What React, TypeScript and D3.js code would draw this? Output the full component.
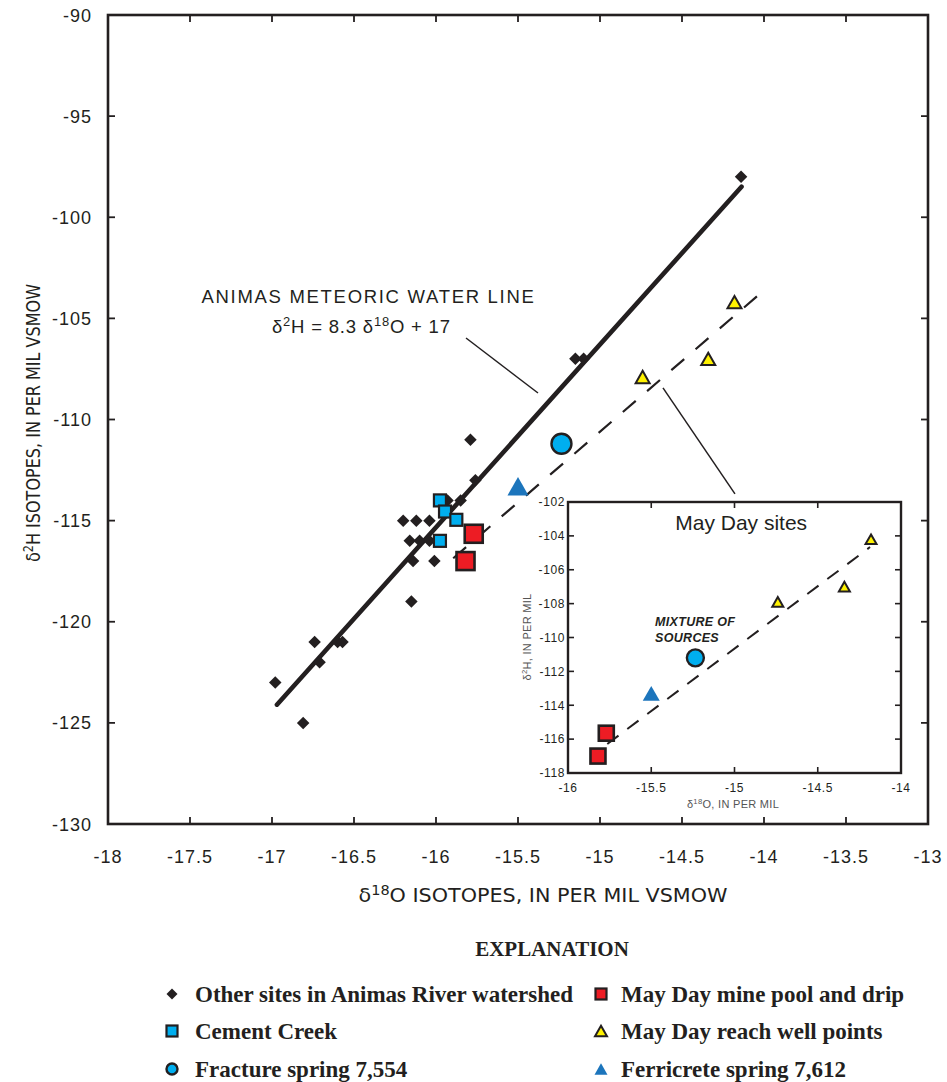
import React, { useEffect, useRef } from "react";
import * as d3 from "d3";

// ---------- data ----------
const X_TICKS = [-18, -17.5, -17, -16.5, -16, -15.5, -15, -14.5, -14, -13.5, -13];
const Y_TICKS = [-90, -95, -100, -105, -110, -115, -120, -125, -130];
const INSET_X_TICKS = [-16, -15.5, -15, -14.5, -14];
const INSET_Y_TICKS = [-102, -104, -106, -108, -110, -112, -114, -116, -118];

const otherSitesX = [-16.98, -16.81, -16.74, -16.71, -16.6, -16.57, -16.15, -16.14, -16.01, -16.16, -16.1, -16.04, -16.2, -16.12, -16.04, -15.93, -15.85, -15.76, -15.79, -15.15, -15.1, -14.14];
const otherSitesY = [-123, -125, -121, -122, -121, -121, -119, -117, -117, -116, -116, -116, -115, -115, -115, -114, -114, -113, -111, -107, -107, -98];

const cementCreekX = [-15.976, -15.945, -15.876, -15.976];
const cementCreekY = [-114, -114.55, -114.96, -116];

const minePoolX = [-15.77, -15.82];
const minePoolY = [-115.65, -117.0];

const wellPointsX = [-14.74, -14.34, -14.18];
const wellPointsY = [-107.9, -107.0, -104.2];

const fractureX = [-15.235];
const fractureY = [-111.2];

const ferricreteX = [-15.5];
const ferricreteY = [-113.3];

const meteoricLineX = [-16.97, -14.137];
const meteoricLineY = [-124.1, -98.49];

const mixingLineX = [-15.895, -14.04];
const mixingLineY = [-116.86, -103.89];

const insetMixingLineX = [-15.764, -14.186];
const insetMixingLineY = [-116.29, -104.66];

const legendLabels = [
  "Other sites in Animas River watershed",
  "Cement Creek",
  "Fracture spring 7,554",
  "May Day mine pool and drip",
  "May Day reach well points",
  "Ferricrete spring 7,612",
];

// ---------- style ----------
const INK = "#231f20";
const RED = "#ed1c24";
const CYAN = "#00aeef";
const BLUE = "#1c75bc";
const YELLOW = "#fff200";
const SANS = "'Liberation Sans', Arial, Helvetica, sans-serif";
const NARROW = "'Liberation Sans Narrow', 'DejaVu Sans Condensed', 'Liberation Sans', sans-serif";
const SERIF = "'Liberation Serif', 'Times New Roman', serif";

type Sel = d3.Selection<SVGGElement, unknown, null, undefined>;

function drawMarker(g: Sel, kind: string, cx: number, cy: number, s: number) {
  if (kind === "diamond") {
    const h = s / 2;
    g.append("path")
      .attr("d", `M${cx},${cy - h}L${cx + h},${cy}L${cx},${cy + h}L${cx - h},${cy}Z`)
      .attr("fill", INK);
  } else if (kind === "cyanSquare" || kind === "redSquare") {
    g.append("rect")
      .attr("x", cx - s / 2).attr("y", cy - s / 2)
      .attr("width", s).attr("height", s)
      .attr("fill", kind === "redSquare" ? RED : CYAN)
      .attr("stroke", INK).attr("stroke-width", s > 14 ? 2.6 : 2.2);
  } else if (kind === "circle") {
    g.append("circle").attr("cx", cx).attr("cy", cy).attr("r", s / 2)
      .attr("fill", CYAN).attr("stroke", INK).attr("stroke-width", 2.4);
  } else if (kind === "yellowTri" || kind === "blueTri") {
    const w = s, h = s * 0.88;
    const p = `M${cx},${cy - h / 2}L${cx + w / 2},${cy + h / 2}L${cx - w / 2},${cy + h / 2}Z`;
    if (kind === "yellowTri") {
      g.append("path").attr("d", p).attr("fill", YELLOW).attr("stroke", INK)
        .attr("stroke-width", 2).attr("stroke-linejoin", "miter");
    } else {
      g.append("path").attr("d", p).attr("fill", BLUE);
    }
  }
}

function superText(
  g: Sel, x: number, y: number, parts: [string, boolean][], size: number,
  family: string, anchor: string, extra: Record<string, string | number> = {}
) {
  const t = g.append("text").attr("x", x).attr("y", y)
    .attr("font-family", family).attr("font-size", size)
    .attr("text-anchor", anchor).attr("fill", INK);
  Object.entries(extra).forEach(([k, v]) => t.attr(k, v));
  let up = false;
  parts.forEach(([s, sup]) => {
    const ts = t.append("tspan").text(s);
    if (sup && !up) { ts.attr("dy", -size * 0.35).attr("font-size", size * 0.7); up = true; }
    else if (!sup && up) { ts.attr("dy", size * 0.35); up = false; }
    else if (sup) ts.attr("font-size", size * 0.7);
  });
  return t;
}

export default function App() {
  const ref = useRef<SVGSVGElement | null>(null);

  useEffect(() => {
    const svg = d3.select(ref.current!);
    svg.selectAll("*").remove();
    const root = svg.append("g") as unknown as Sel;

    // ---------- main plot ----------
    const M = { left: 108, right: 928, top: 15, bottom: 824 };
    const x = d3.scaleLinear().domain([-18, -13]).range([M.left, M.right]);
    const y = d3.scaleLinear().domain([-130, -90]).range([M.bottom, M.top]);

    const frame = root.append("g");
    const tick = 7;
    X_TICKS.slice(1, -1).forEach((v) => {
      frame.append("line").attr("x1", x(v)).attr("x2", x(v)).attr("y1", M.bottom).attr("y2", M.bottom - tick)
        .attr("stroke", INK).attr("stroke-width", 1.8);
      frame.append("line").attr("x1", x(v)).attr("x2", x(v)).attr("y1", M.top).attr("y2", M.top + tick)
        .attr("stroke", INK).attr("stroke-width", 1.8);
    });
    Y_TICKS.slice(1, -1).forEach((v) => {
      frame.append("line").attr("x1", M.left).attr("x2", M.left + tick).attr("y1", y(v)).attr("y2", y(v))
        .attr("stroke", INK).attr("stroke-width", 1.8);
      frame.append("line").attr("x1", M.right).attr("x2", M.right - tick).attr("y1", y(v)).attr("y2", y(v))
        .attr("stroke", INK).attr("stroke-width", 1.8);
    });
    frame.append("rect").attr("x", M.left).attr("y", M.top)
      .attr("width", M.right - M.left).attr("height", M.bottom - M.top)
      .attr("fill", "none").attr("stroke", INK).attr("stroke-width", 2.6);

    X_TICKS.forEach((v) => {
      root.append("text").attr("x", x(v)).attr("y", 863).attr("text-anchor", "middle")
        .attr("font-family", SANS).attr("font-size", 18).attr("letter-spacing", 1)
        .attr("fill", INK).text(String(v));
    });
    Y_TICKS.forEach((v) => {
      root.append("text").attr("x", M.left - 16).attr("y", y(v) + 6.5).attr("text-anchor", "end")
        .attr("font-family", SANS).attr("font-size", 18).attr("letter-spacing", 1)
        .attr("fill", INK).text(String(v));
    });

    superText(root, 543, 902, [["δ", false], ["18", true], ["O ISOTOPES, IN PER MIL VSMOW", false]], 19, NARROW, "middle",
      { "font-weight": 300, "textLength": 369, "lengthAdjust": "spacingAndGlyphs" });
    const yt = root.append("g").attr("transform", `translate(40,423) rotate(-90)`) as unknown as Sel;
    superText(yt, 0, 0, [["δ", false], ["2", true], ["H ISOTOPES, IN PER MIL VSMOW", false]], 19, NARROW, "middle",
      { "font-weight": 300, "textLength": 278, "lengthAdjust": "spacingAndGlyphs" });

    const lineGen = d3.line<[number, number]>().x((d) => x(d[0])).y((d) => y(d[1]));
    root.append("path")
      .attr("d", lineGen(meteoricLineX.map((v, i) => [v, meteoricLineY[i]] as [number, number])))
      .attr("stroke", INK).attr("stroke-width", 4.6).attr("stroke-linecap", "round").attr("fill", "none");
    root.append("path")
      .attr("d", lineGen(mixingLineX.map((v, i) => [v, mixingLineY[i]] as [number, number])))
      .attr("stroke", INK).attr("stroke-width", 2.2).attr("stroke-dasharray", "17 15").attr("fill", "none");

    root.append("text").attr("x", x(-17.43)).attr("y", y(-104.25))
      .attr("font-family", SANS).attr("font-size", 18.5).attr("letter-spacing", 1.7)
      .attr("fill", INK).text("ANIMAS METEORIC WATER LINE");
    superText(root, x(-17.0), y(-105.72),
      [["δ", false], ["2", true], ["H = 8.3 δ", false], ["18", true], ["O + 17", false]], 18.5, SANS, "start",
      { "letter-spacing": 0.8 });
    root.append("line").attr("x1", x(-15.817)).attr("y1", y(-105.97)).attr("x2", x(-15.378)).attr("y2", y(-108.69))
      .attr("stroke", INK).attr("stroke-width", 1.5);
    root.append("line").attr("x1", x(-14.616)).attr("y1", y(-108.44)).attr("x2", x(-14.177)).attr("y2", y(-113.68))
      .attr("stroke", INK).attr("stroke-width", 1.5);

    const pts = root.append("g") as unknown as Sel;
    otherSitesX.forEach((v, i) => drawMarker(pts, "diamond", x(v), y(otherSitesY[i]), 12.5));
    cementCreekX.forEach((v, i) => drawMarker(pts, "cyanSquare", x(v), y(cementCreekY[i]), 12));
    minePoolX.forEach((v, i) => drawMarker(pts, "redSquare", x(v), y(minePoolY[i]), 18));
    wellPointsX.forEach((v, i) => drawMarker(pts, "yellowTri", x(v), y(wellPointsY[i]), 14));
    fractureX.forEach((v, i) => drawMarker(pts, "circle", x(v), y(fractureY[i]), 20));
    ferricreteX.forEach((v, i) => drawMarker(pts, "blueTri", x(v), y(ferricreteY[i]), 21));

    // ---------- inset ----------
    const I = { left: 568, right: 901, top: 502, bottom: 773 };
    const ix = d3.scaleLinear().domain([-16, -14]).range([I.left, I.right]);
    const iy = d3.scaleLinear().domain([-118, -102]).range([I.bottom, I.top]);
    const ins = root.append("g") as unknown as Sel;
    ins.append("rect").attr("x", I.left).attr("y", I.top).attr("width", I.right - I.left)
      .attr("height", I.bottom - I.top).attr("fill", "#fff");
    const itk = 6;
    INSET_X_TICKS.slice(1, -1).forEach((v) => {
      ins.append("line").attr("x1", ix(v)).attr("x2", ix(v)).attr("y1", I.bottom).attr("y2", I.bottom - itk)
        .attr("stroke", INK).attr("stroke-width", 1.6);
      ins.append("line").attr("x1", ix(v)).attr("x2", ix(v)).attr("y1", I.top).attr("y2", I.top + itk)
        .attr("stroke", INK).attr("stroke-width", 1.6);
    });
    INSET_Y_TICKS.slice(1, -1).forEach((v) => {
      ins.append("line").attr("x1", I.left).attr("x2", I.left + itk).attr("y1", iy(v)).attr("y2", iy(v))
        .attr("stroke", INK).attr("stroke-width", 1.6);
      ins.append("line").attr("x1", I.right).attr("x2", I.right - itk).attr("y1", iy(v)).attr("y2", iy(v))
        .attr("stroke", INK).attr("stroke-width", 1.6);
    });
    ins.append("rect").attr("x", I.left).attr("y", I.top).attr("width", I.right - I.left)
      .attr("height", I.bottom - I.top).attr("fill", "none").attr("stroke", INK).attr("stroke-width", 2.4);
    INSET_X_TICKS.forEach((v) => {
      ins.append("text").attr("x", ix(v)).attr("y", 792).attr("text-anchor", "middle")
        .attr("font-family", SANS).attr("font-size", 12).attr("letter-spacing", 0.6)
        .attr("fill", INK).text(String(v));
    });
    INSET_Y_TICKS.forEach((v) => {
      ins.append("text").attr("x", I.left - 3).attr("y", iy(v) + 4.3).attr("text-anchor", "end")
        .attr("font-family", SANS).attr("font-size", 12).attr("letter-spacing", 0.6)
        .attr("fill", INK).text(String(v));
    });
    superText(ins, 733, 808, [["δ", false], ["18", true], ["O, IN PER MIL", false]], 11, SANS, "middle",
      { "letter-spacing": 0.3 }).attr("fill", "#555");
    const iyt = ins.append("g").attr("transform", `translate(531,637) rotate(-90)`) as unknown as Sel;
    superText(iyt, 0, 0, [["δ", false], ["2", true], ["H, IN PER MIL", false]], 11, SANS, "middle",
      { "letter-spacing": 0.3 }).attr("fill", "#555");

    ins.append("text").attr("x", ix(-14.96)).attr("y", iy(-103.65)).attr("text-anchor", "middle")
      .attr("font-family", SANS).attr("font-size", 21).attr("fill", INK).text("May Day sites");
    ins.append("text").attr("x", ix(-15.477)).attr("y", iy(-109.32))
      .attr("font-family", SANS).attr("font-size", 12.5).attr("font-weight", "bold").attr("font-style", "italic")
      .attr("letter-spacing", 0.3).attr("fill", INK).text("MIXTURE OF");
    ins.append("text").attr("x", ix(-15.477)).attr("y", iy(-110.25))
      .attr("font-family", SANS).attr("font-size", 12.5).attr("font-weight", "bold").attr("font-style", "italic")
      .attr("letter-spacing", 0.3).attr("fill", INK).text("SOURCES");

    const iLine = d3.line<[number, number]>().x((d) => ix(d[0])).y((d) => iy(d[1]));
    ins.append("path")
      .attr("d", iLine(insetMixingLineX.map((v, i) => [v, insetMixingLineY[i]] as [number, number])))
      .attr("stroke", INK).attr("stroke-width", 2).attr("stroke-dasharray", "14 11").attr("fill", "none");

    minePoolX.forEach((v, i) => drawMarker(ins, "redSquare", ix(v), iy(minePoolY[i]), 15));
    wellPointsX.forEach((v, i) => drawMarker(ins, "yellowTri", ix(v), iy(wellPointsY[i]), 11));
    fractureX.forEach((v, i) => drawMarker(ins, "circle", ix(v), iy(fractureY[i]), 17));
    ferricreteX.forEach((v, i) => drawMarker(ins, "blueTri", ix(v), iy(ferricreteY[i]), 17));

    // ---------- legend ----------
    const leg = root.append("g") as unknown as Sel;
    leg.append("text").attr("x", 552).attr("y", 956).attr("text-anchor", "middle")
      .attr("font-family", SERIF).attr("font-weight", "bold").attr("font-size", 21)
      .attr("fill", INK).text("EXPLANATION");
    const rows = [994, 1031, 1069];
    const kinds = ["diamond", "cyanSquare", "circle", "redSquare", "yellowTri", "blueTri"];
    const sizes = [11, 11, 11, 11, 12, 13];
    legendLabels.forEach((lab, i) => {
      const col = i < 3 ? 0 : 1;
      const r = i % 3;
      const mx = col === 0 ? 172 : 601;
      const tx = col === 0 ? 195 : 621;
      drawMarker(leg, kinds[i], mx, rows[r], sizes[i]);
      leg.append("text").attr("x", tx).attr("y", rows[r] + 7.5)
        .attr("font-family", SERIF).attr("font-weight", "bold").attr("font-size", 23)
        .attr("fill", INK).text(lab);
    });
  }, []);

  return (
    <svg ref={ref} width={947} height={1082}
      style={{ position: "absolute", left: 0, top: 0, background: "#fff" }} />
  );
}
